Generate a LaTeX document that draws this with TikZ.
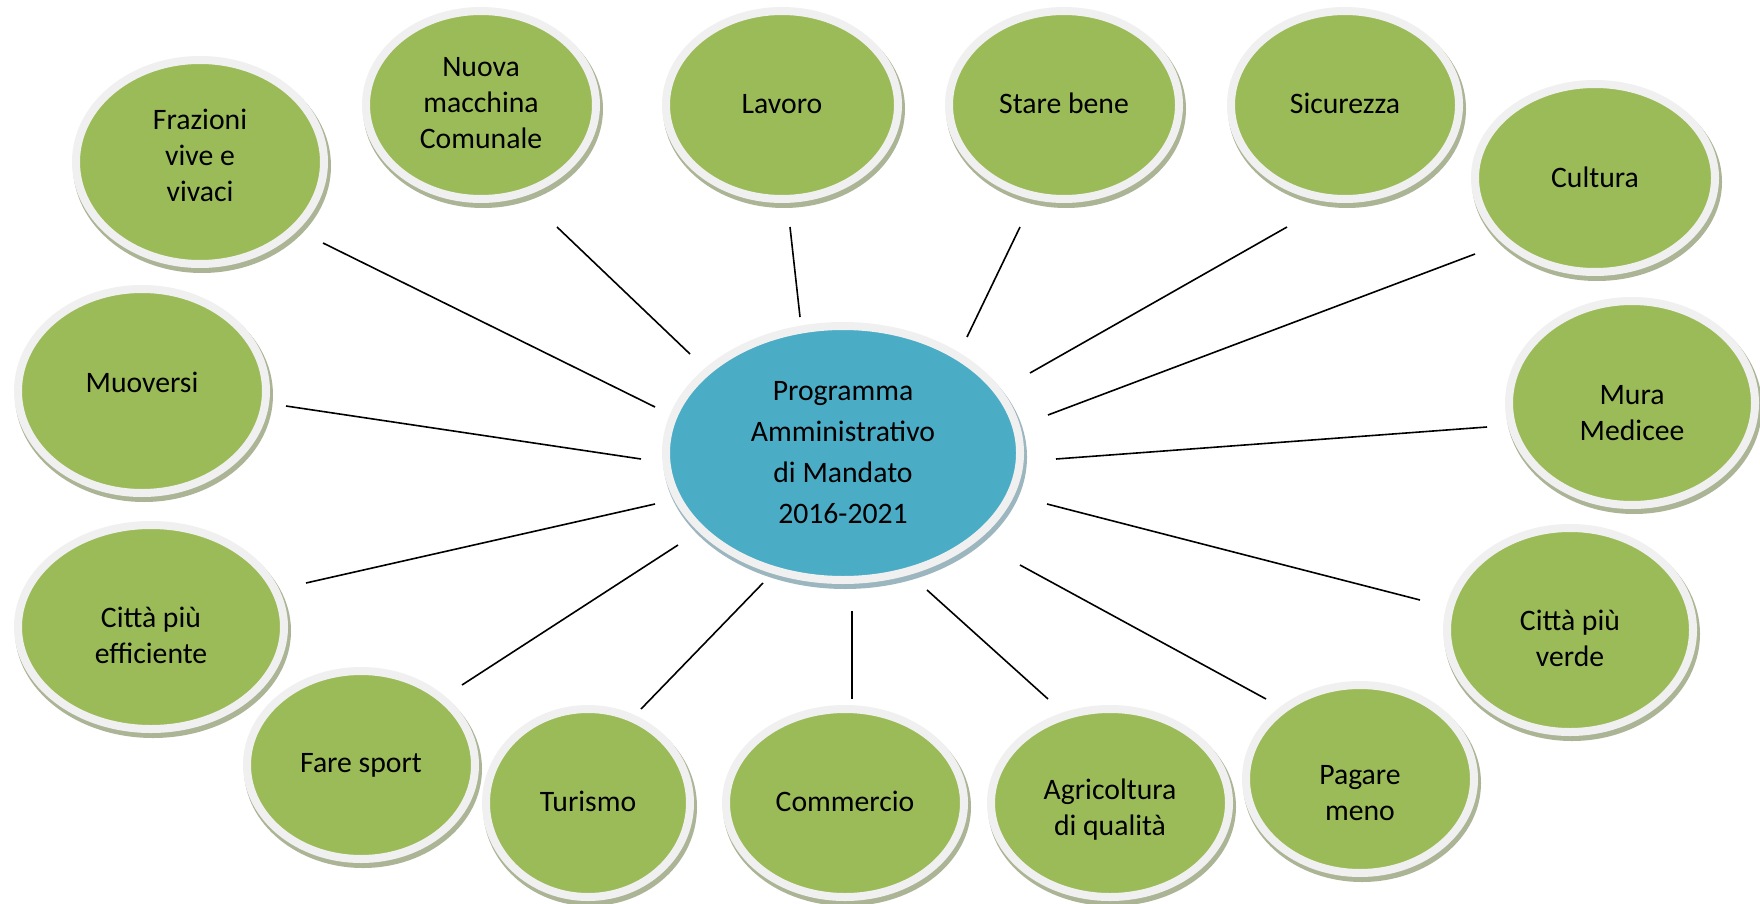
\documentclass[tikz,border=0pt]{standalone}
\usepackage{fontspec}
\setmainfont{Carlito}
\usetikzlibrary{shapes.geometric}
\definecolor{leafgreen}{HTML}{9BBB59}
\definecolor{hubblue}{HTML}{4BACC6}
\definecolor{ringgrey}{HTML}{F0F0F0}
\definecolor{leafshadow}{HTML}{ABB595}
\definecolor{hubshadow}{HTML}{9CB6C0}
\tikzset{
  bubble/.style={ellipse, draw=ringgrey, line width=8pt, inner sep=0pt, outer sep=0pt},
  leaf/.style={bubble, fill=leafgreen},
  hub/.style={bubble, fill=hubblue},
  leaftext/.style={align=center, text=black, inner sep=0pt, font=\fontsize{29.7}{36}\selectfont},
  hubtext/.style={leaftext, font=\fontsize{29.7}{41}\selectfont},
  spoke/.style={line width=1.6pt, black},
}
% #1 style, #2 name, #3 x, #4 y, #5 rx, #6 ry, #7 text, #8 shadow colour, #9 text offset (down)
\newcommand\placebubble[9]{%
  \fill[#8] (#3+2,#4+4) ellipse [x radius={#5+9}, y radius={#6+9}];
  \node[#1, minimum width={2*#5+8}, minimum height={2*#6+8}] (#2) at (#3,#4) {};
  \node[#1text] (#2-label) at ([yshift={-(#9)*1pt}]#2.center) {#7};}
\begin{document}
\begin{tikzpicture}[x=1pt,y=-1pt]
\useasboundingbox[fill=white] (0,0) rectangle (1760,904);
% hub
\placebubble{hub}{hub}{843}{453}{173}{123}{Programma\\Amministrativo\\di Mandato\\2016-2021}{hubshadow}{0}
% leaves
\placebubble{leaf}{frazioni}{200}{162}{120}{98}{Frazioni\\vive e\\vivaci}{leafshadow}{-7}
\placebubble{leaf}{macchina}{481}{105}{111}{90}{Nuova\\macchina\\Comunale}{leafshadow}{-2}
\placebubble{leaf}{lavoro}{782}{105}{112}{90}{Lavoro}{leafshadow}{-1}
\placebubble{leaf}{starebene}{1064}{105}{111}{90}{Stare bene}{leafshadow}{-2}
\placebubble{leaf}{sicurezza}{1345}{105}{110}{90}{Sicurezza}{leafshadow}{-2}
\placebubble{leaf}{cultura}{1595}{178}{116}{90}{Cultura}{leafshadow}{-1}
\placebubble{leaf}{mura}{1632}{403}{119}{98}{Mura\\Medicee}{leafshadow}{10}
\placebubble{leaf}{verde}{1570}{630}{119}{98}{Città più\\verde}{leafshadow}{8}
\placebubble{leaf}{pagare}{1360}{779}{110}{90}{Pagare\\meno}{leafshadow}{14}
\placebubble{leaf}{agricoltura}{1110}{803}{115}{90}{Agricoltura\\di qualità}{leafshadow}{7}
\placebubble{leaf}{commercio}{845}{803}{115}{90}{Commercio}{leafshadow}{-2}
\placebubble{leaf}{turismo}{588}{803}{98}{90}{Turismo}{leafshadow}{-2}
\placebubble{leaf}{sport}{361}{765}{110}{90}{Fare sport}{leafshadow}{0}
\placebubble{leaf}{efficiente}{151}{627}{129}{98}{Città più\\efficiente}{leafshadow}{8}
\placebubble{leaf}{muoversi}{142}{391}{120}{98}{Muoversi}{leafshadow}{-9}
% connector end points
\coordinate (frazioni-a) at (323,243);   \coordinate (frazioni-b) at (655,407);
\coordinate (macchina-a) at (557,227);   \coordinate (macchina-b) at (690,354);
\coordinate (lavoro-a) at (790,227);     \coordinate (lavoro-b) at (800,317);
\coordinate (starebene-a) at (1020,227); \coordinate (starebene-b) at (967,337);
\coordinate (sicurezza-a) at (1287,227); \coordinate (sicurezza-b) at (1030,373);
\coordinate (cultura-a) at (1475,254);   \coordinate (cultura-b) at (1048,415);
\coordinate (mura-a) at (1487,427);      \coordinate (mura-b) at (1056,459);
\coordinate (verde-a) at (1420,600);     \coordinate (verde-b) at (1047,504);
\coordinate (pagare-a) at (1266,699);    \coordinate (pagare-b) at (1020,565);
\coordinate (agricoltura-a) at (1048,699); \coordinate (agricoltura-b) at (927,590);
\coordinate (commercio-a) at (852,699);  \coordinate (commercio-b) at (852,611);
\coordinate (turismo-a) at (641,709);    \coordinate (turismo-b) at (763,583);
\coordinate (sport-a) at (462,685);      \coordinate (sport-b) at (678,545);
\coordinate (efficiente-a) at (306,583); \coordinate (efficiente-b) at (655,504);
\coordinate (muoversi-a) at (286,406);   \coordinate (muoversi-b) at (641,459);
\foreach \n in {frazioni,macchina,lavoro,starebene,sicurezza,cultura,mura,verde,pagare,agricoltura,commercio,turismo,sport,efficiente,muoversi}
  \draw[spoke] (\n-a) -- (\n-b);
\end{tikzpicture}
\end{document}
